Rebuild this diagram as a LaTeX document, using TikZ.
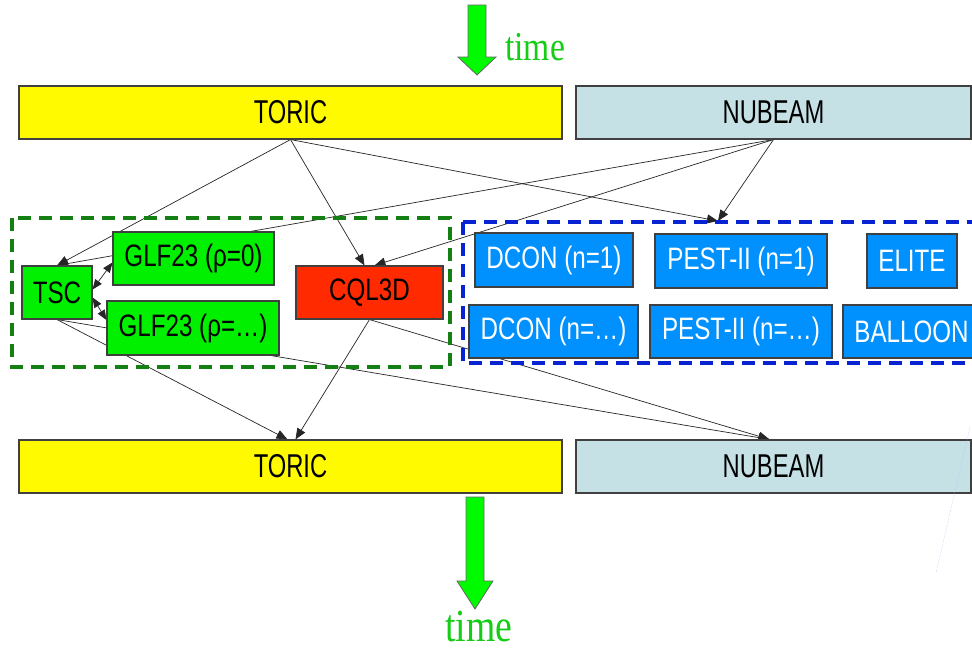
\documentclass[tikz,border=0pt]{standalone}
\usepackage{fontspec}
\usetikzlibrary{arrows.meta,backgrounds}
\newfontfamily\bigboxfont[FakeStretch=0.72]{Liberation Sans}
\newfontfamily\smallboxfont[FakeStretch=0.78]{Liberation Sans}
\newfontfamily\timefont[FakeStretch=0.82]{Liberation Serif}
\definecolor{toricyellow}{RGB}{255,250,0}
\definecolor{nubeamblue}{RGB}{197,225,230}
\definecolor{glfgreen}{RGB}{0,240,0}
\definecolor{cqlred}{RGB}{255,42,0}
\definecolor{mhdblue}{RGB}{0,145,255}
\definecolor{grpgreen}{RGB}{20,128,20}
\definecolor{grpblue}{RGB}{8,36,210}
\definecolor{timegreen}{RGB}{20,205,20}
\definecolor{arrowgreen}{RGB}{0,250,0}
\tikzset{
  codebox/.style={draw=black!75, line width=1.1pt, inner sep=0pt, anchor=center},
  bigbox/.style={codebox, minimum height=53pt, font=\bigboxfont\fontsize{33}{36}\selectfont},
  smallbox/.style={codebox, minimum height=53pt, font=\smallboxfont\fontsize{31}{34}\selectfont},
  conn/.style={draw=black!85, line width=0.7pt, -{Triangle[length=11pt,width=9pt]}},
  biconn/.style={draw=black!85, line width=0.7pt, {Triangle[length=10pt,width=8pt]}-{Triangle[length=10pt,width=8pt]}},
  grpbox/.style={line width=4pt, dash pattern=on 13pt off 8pt},
  timearrow/.style={fill=arrowgreen, draw=black!60, line width=0.8pt, line join=miter},
  timetext/.style={text=timegreen, inner sep=0pt}
}
\begin{document}
\begin{tikzpicture}[x=1pt,y=-1pt]
\useasboundingbox (0,0) rectangle (972,648);

% time arrows
\draw[timearrow] (468,5) -- (486,5) -- (486,57) -- (496,57) -- (477,75) -- (458,57) -- (468,57) -- cycle;
\node[timetext, anchor=base west, font=\timefont\fontsize{41}{44}\selectfont] (ttop) at (505,60) {time};
\draw[timearrow] (466,497) -- (484,497) -- (484,581) -- (493,581) -- (475,609) -- (457,581) -- (466,581) -- cycle;
\node[timetext, anchor=base, font=\timefont\fontsize{46}{50}\selectfont] (tbot) at (479,641) {time};

% big boxes
\node[bigbox, fill=toricyellow, minimum width=543pt] (topT) at (290.5,112.5) {TORIC};
\node[bigbox, fill=nubeamblue, minimum width=395pt] (topN) at (773.5,112.5) {NUBEAM};
\node[bigbox, fill=toricyellow, minimum width=543pt] (botT) at (290.5,466.5) {TORIC};
\node[bigbox, fill=nubeamblue, minimum width=395pt] (botN) at (773.5,466.5) {NUBEAM};

% green group
\node[smallbox, fill=glfgreen, minimum width=70pt] (tsc) at (57,292.5) {TSC};
\node[smallbox, fill=glfgreen, minimum width=161pt] (glf0) at (193.5,258.5) {GLF23 (ρ=0)};
\node[smallbox, fill=glfgreen, minimum width=172pt, minimum height=54pt] (glfd) at (193,328) {GLF23 (ρ=…)};
\node[smallbox, fill=cqlred, minimum width=147pt] (cql) at (369.5,292.5) {CQL3D};

% blue group
\node[smallbox, fill=mhdblue, text=white, minimum width=158pt, minimum height=54pt] (dcon1) at (554,260) {DCON (n=1)};
\node[smallbox, fill=mhdblue, text=white, minimum width=172pt, minimum height=54pt] (pest1) at (741,261) {PEST-II (n=1)};
\node[smallbox, fill=mhdblue, text=white, minimum width=90pt, minimum height=54pt] (elite) at (912,261) {ELITE};
\node[smallbox, fill=mhdblue, text=white, minimum width=169pt] (dcond) at (553.5,331.5) {DCON (n=…)};
\node[smallbox, fill=mhdblue, text=white, minimum width=182pt] (pestd) at (741,331.5) {PEST-II (n=…)};
\node[smallbox, fill=mhdblue, text=white, minimum width=137pt] (balloon) at (911.5,331.5) {BALLOON};

% group frames
\draw[grpbox, draw=grpgreen] (12,218) rectangle (450,367);
\draw[grpbox, draw=grpblue] (463,222) rectangle (990,363);
\coordinate (bluein) at (718,221);

% white page and connectors behind boxes
\begin{pgfonlayer}{background}
\fill[white] (0,0) rectangle (972,648);
\draw[conn] (topT.south) -- (tsc.north);
\draw[conn] (topT.south) -- ([xshift=-5pt]cql.north);
\draw[conn] (topT.south) -- (bluein);
\draw[conn] (topN.south) -- (tsc.north);
\draw[conn] (topN.south) -- ([xshift=5pt]cql.north);
\draw[conn] (topN.south) -- (bluein);
\draw[biconn] ([yshift=3pt]tsc.east) -- ([yshift=-4pt]glf0.west);
\draw[biconn] ([yshift=-5pt]tsc.east) -- ([yshift=8pt]glfd.west);
\draw[conn] (tsc.south) -- ([xshift=-3pt]botT.north);
\draw[conn] (tsc.south) -- ([xshift=-4pt]botN.north);
\draw[conn] (cql.south) -- ([xshift=5pt]botT.north);
\draw[conn] (cql.south) -- ([xshift=-4pt]botN.north);
\end{pgfonlayer}

% faint line at the lower right
\draw[blue!30, line width=0.4pt, densely dotted] (970,427) -- (936,573);
\end{tikzpicture}
\end{document}
